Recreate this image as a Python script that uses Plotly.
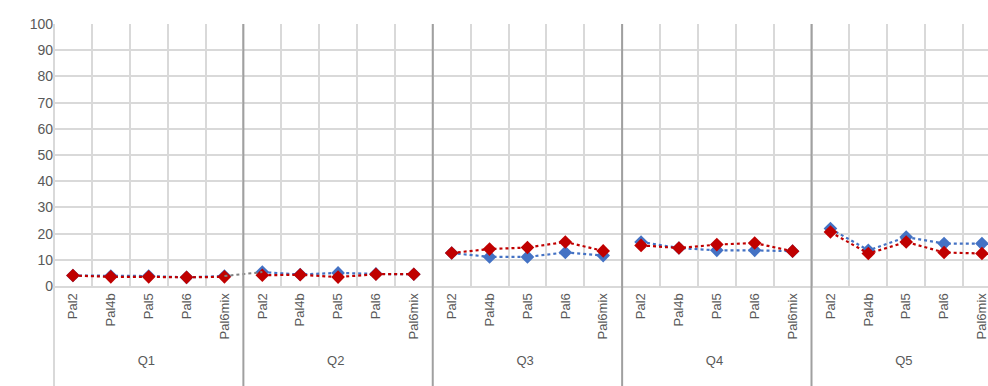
import plotly.graph_objects as go

groups = ["Q1", "Q2", "Q3", "Q4", "Q5"]
palettes = ["Pal2", "Pal4b", "Pal5", "Pal6", "Pal6mix"]

blue_vals = {
    "Q1": [4.0, 3.8, 3.8, 3.3, 3.8],
    "Q2": [5.3, 4.4, 5.0, 4.6, 4.5],
    "Q3": [12.6, 11.1, 11.1, 12.8, 11.6],
    "Q4": [16.8, 14.5, 13.6, 13.6, 13.3],
    "Q5": [21.9, 13.6, 18.7, 16.2, 16.2],
}
red_vals = {
    "Q1": [4.0, 3.5, 3.5, 3.3, 3.5],
    "Q2": [4.1, 4.3, 3.4, 4.5, 4.5],
    "Q3": [12.6, 14.1, 14.7, 16.8, 13.4],
    "Q4": [15.5, 14.5, 15.8, 16.4, 13.3],
    "Q5": [20.6, 12.4, 16.8, 12.8, 12.4],
}
# gray connector between Q1 Pal6mix and Q2 Pal2
gray_x = [["Q1", "Q2"], ["Pal6mix", "Pal2"]]
gray_vals = [3.8, 5.3]

y_ticks = list(range(0, 101, 10))

BLUE = "#4472C4"
RED = "#C00000"
FONT = "Liberation Sans"

fig = go.Figure()

for series, color in ((blue_vals, BLUE), (red_vals, RED)):
    for g in groups:
        fig.add_trace(go.Scatter(
            x=[[g] * len(palettes), palettes],
            y=series[g],
            mode="lines+markers",
            line=dict(color=color, width=2.2, dash="dot"),
            marker=dict(symbol="diamond", size=10.5, color=color),
            showlegend=False))

fig.add_trace(go.Scatter(
    x=gray_x, y=gray_vals, mode="lines",
    line=dict(color="#808080", width=2, dash="dot"),
    showlegend=False, hoverinfo="skip"))

n = len(groups) * len(palettes)
r0, r1 = -0.5, n - 0.84

shapes = []
shapes.append(dict(type="line", xref="paper", yref="paper", x0=0, x1=0,
                   y0=-0.4, y1=1, line=dict(color="#d9d9d9", width=2), layer="above"))
for k in range(1, len(groups)):
    xb = k * len(palettes) - 0.5
    xp = (xb - r0) / (r1 - r0)
    shapes.append(dict(type="line", xref="paper", yref="paper", x0=xp, x1=xp,
                       y0=-0.4, y1=1, line=dict(color="#a0a0a0", width=2), layer="above"))

fig.update_layout(
    width=988, height=386,
    margin=dict(l=54, r=0, t=24, b=100),
    paper_bgcolor="white", plot_bgcolor="white",
    font=dict(family=FONT, color="#595959"),
    shapes=shapes,
    xaxis=dict(
        type="multicategory",
        range=[r0, r1],
        automargin=False,
        tickson="boundaries",
        showgrid=True, gridcolor="#d9d9d9", gridwidth=2,
        showline=True, linecolor="#d9d9d9", linewidth=2,
        ticks="", tickangle=-90,
        tickfont=dict(size=13, family=FONT, color="#595959"),
        showdividers=False,
        zeroline=False,
    ),
    yaxis=dict(
        range=[0, 100], tickvals=y_ticks,
        automargin=False,
        showgrid=True, gridcolor="#d9d9d9", gridwidth=2,
        zeroline=False, showline=False, ticks="",
        tickfont=dict(size=14, family=FONT, color="#595959"),
    ),
)

fig.write_html("out.html", config={"displayModeBar": False},
               post_script="document.body.style.margin='0';")
